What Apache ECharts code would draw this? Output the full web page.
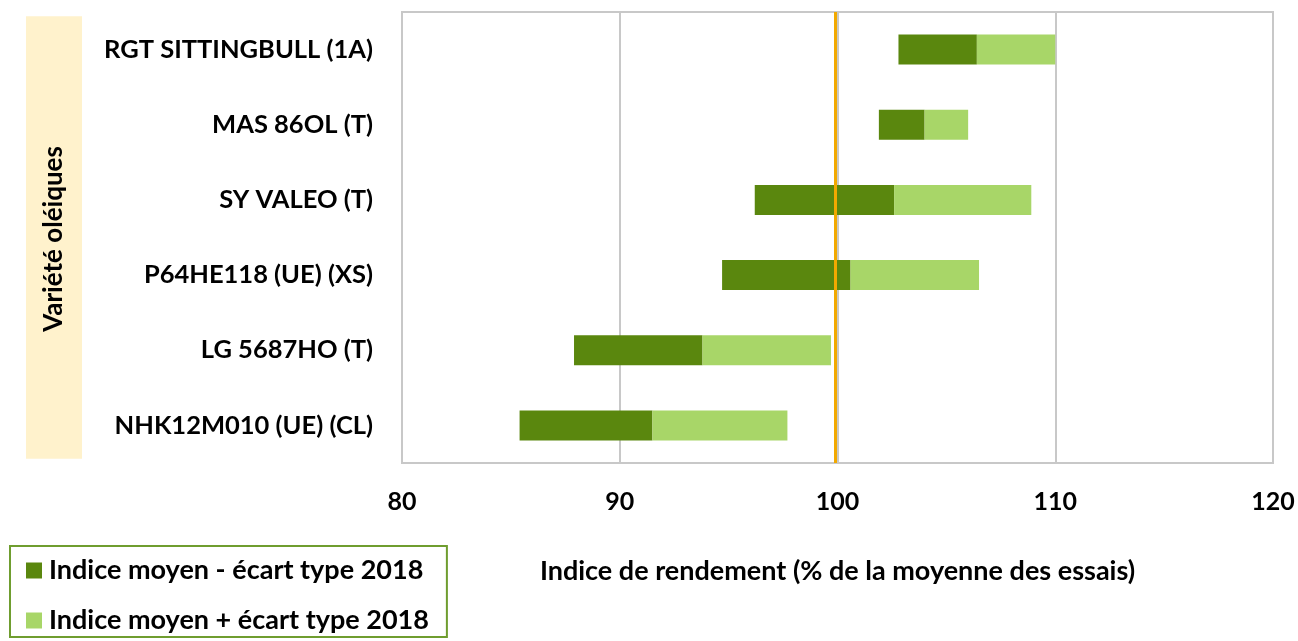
<!DOCTYPE html>
<html>
<head>
<meta charset="utf-8">
<script src="https://cdn.jsdelivr.net/npm/echarts@6/dist/echarts.min.js"></script>
<style>
  html, body { margin: 0; padding: 0; background: #fff; }
  #chart { width: 1298px; height: 641px; }
</style>
</head>
<body>
<div id="chart"></div>
<script>
// varieties, top to bottom
const varietes = ['RGT SITTINGBULL (1A)', 'MAS 86OL (T)', 'SY VALEO (T)', 'P64HE118 (UE) (XS)', 'LG 5687HO (T)', 'NHK12M010 (UE) (CL)'];
// indice moyen - écart type, indice moyen, indice moyen + écart type
const basVals = [102.8, 101.9, 96.2, 94.7, 87.9, 85.4];
const moyVals = [106.4, 104.0, 102.6, 100.6, 93.8, 91.5];
const hautVals = [110.0, 106.0, 108.9, 106.5, 99.7, 97.7];
const reference = 99.9;
const xTicks = [80, 120, 10]; // min, max, interval

const FONT = 'Lato';
const darkGreen = '#5a870e';
const lightGreen = '#a8d668';

const chart = echarts.init(document.getElementById('chart'));

chart.setOption({
  animation: false,
  textStyle: { fontFamily: FONT },
  grid: {
    left: 402, right: 25, top: 12, bottom: 178,
    show: true, borderColor: '#c8c8c8', borderWidth: 2
  },
  legend: {
    left: 10, top: 546, height: 200,
    orient: 'vertical',
    data: ['Indice moyen - écart type 2018', 'Indice moyen + écart type 2018'],
    icon: 'rect',
    itemWidth: 16, itemHeight: 16,
    itemGap: 23,
    padding: [11, 18, 3, 16],
    borderColor: '#6f9d2f', borderWidth: 2,
    selectedMode: false,
    textStyle: { fontFamily: FONT, fontWeight: 'bold', fontSize: 27, color: '#000', padding: [0, 0, 0, 2] }
  },
  xAxis: {
    type: 'value',
    min: xTicks[0], max: xTicks[1], interval: xTicks[2],
    name: 'Indice de rendement (% de la moyenne des essais)',
    nameLocation: 'middle',
    nameGap: 95,
    nameTextStyle: { fontFamily: FONT, fontWeight: 'bold', fontSize: 27, color: '#000' },
    axisLine: { show: false },
    axisTick: { show: false },
    axisLabel: { fontFamily: FONT, fontWeight: 'bold', fontSize: 25, color: '#000', margin: 26 },
    splitLine: { lineStyle: { color: '#c8c8c8', width: 2 } }
  },
  yAxis: {
    type: 'category',
    data: varietes,
    inverse: true,
    name: 'Variété oléiques',
    nameLocation: 'middle',
    nameRotate: 90,
    nameGap: 320,
    nameTextStyle: {
      fontFamily: FONT, fontWeight: 'bold', fontSize: 26, color: '#000',
      backgroundColor: '#fff2cc',
      height: 56, lineHeight: 56,
      padding: [0, 130, 0, 127]
    },
    axisLine: { show: false },
    axisTick: { show: false },
    axisLabel: { fontFamily: FONT, fontWeight: 'bold', fontSize: 25.5, color: '#000', margin: 29 }
  },
  series: [
    {
      name: 'base',
      type: 'bar',
      stack: 'total',
      barWidth: 30,
      silent: true,
      itemStyle: { color: 'transparent' },
      data: basVals
    },
    {
      name: 'Indice moyen - écart type 2018',
      type: 'bar',
      stack: 'total',
      barWidth: 30,
      itemStyle: { color: darkGreen },
      data: moyVals.map((m, i) => +(m - basVals[i]).toFixed(2))
    },
    {
      name: 'Indice moyen + écart type 2018',
      type: 'bar',
      stack: 'total',
      barWidth: 30,
      itemStyle: { color: lightGreen },
      data: hautVals.map((h, i) => +(h - moyVals[i]).toFixed(2)),
      markLine: {
        silent: true,
        symbol: 'none',
        label: { show: false },
        lineStyle: { color: '#f2a900', width: 3, type: 'solid' },
        data: [{ xAxis: reference }]
      }
    }
  ]
});
</script>
</body>
</html>
